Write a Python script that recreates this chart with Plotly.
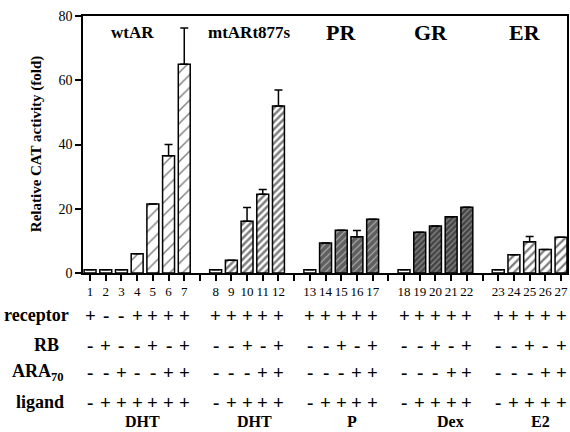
import plotly.graph_objects as go

# ---------------- data ----------------
lanes = [str(i) for i in range(1, 28)]
groups = ["wtAR", "mtARt877s", "PR", "GR", "ER"]
group_sizes = [7, 5, 5, 5, 5]
activity = [1, 1, 1, 6, 21.5, 36.5, 65,
            1, 4, 16.1, 24.5, 52,
            1, 9.3, 13.3, 11.3, 16.7,
            1, 12.7, 14.6, 17.5, 20.5,
            1, 5.7, 9.7, 7.3, 11.1]
err_upper = [0, 0, 0, 0, 0, 3.5, 11.3,
             0, 0, 4.3, 1.5, 5,
             0, 0, 0, 1.9, 0,
             0, 0, 0, 0, 0,
             0, 0, 1.7, 0, 0]
receptor = list("+--++++" + "+++++" * 4)
rb = list("-+--+-+" + "--+-+" * 4)
ara70 = list("--+--++" + "---++" * 4)
ligand = list("-++++++" + "-++++" * 4)
ligand_names = ["DHT", "DHT", "P", "Dex", "E2"]
yticks = [0, 20, 40, 60, 80]

# ---------------- layout helpers ----------------
slot = []
group_of = []
s = 0
for g, n in enumerate(group_sizes):
    for k in range(n):
        slot.append(s)
        group_of.append(g)
        s += 1
    s += 1
n_slots = s - 1
all_slots = list(range(n_slots))
tick_text = [""] * n_slots
for i, sl in enumerate(slot):
    tick_text[sl] = lanes[i]

SERIF = "Liberation Serif, Times New Roman, serif"

patterns = {
    "ctrl": dict(shape="", bgcolor="white"),
    "wtAR": dict(shape="/", fgcolor="black", bgcolor="white", size=9, solidity=0.16),
    "mtARt877s": dict(shape="/", fgcolor="black", bgcolor="white", size=5, solidity=0.5),
    "PR": dict(shape="/", fgcolor="black", bgcolor="#c0c0c0", size=5, solidity=0.82),
    "GR": dict(shape="/", fgcolor="black", bgcolor="#8a8a8a", size=4, solidity=0.7),
    "ER": dict(shape="/", fgcolor="black", bgcolor="white", size=6, solidity=0.38),
}

style_of = []
for i in range(len(lanes)):
    if receptor[i] == "-" or ligand[i] == "-":
        style_of.append("ctrl")
    else:
        style_of.append(groups[group_of[i]])

fig = go.Figure()
for st, pat in patterns.items():
    idx = [i for i in range(len(lanes)) if style_of[i] == st]
    fig.add_trace(go.Bar(
        x=[slot[i] for i in idx],
        y=[activity[i] for i in idx],
        width=0.76,
        marker=dict(color="white", line=dict(color="black", width=1.5), pattern=pat),
        error_y=dict(type="data", symmetric=False,
                     array=[err_upper[i] for i in idx],
                     arrayminus=[0] * len(idx),
                     color="black", thickness=1.5, width=4),
        showlegend=False,
        hoverinfo="skip",
    ))

W, H = 570, 432
L, R, T, B = 83, 569, 16, 273          # plot area in page pixels


def px(xp):
    return (xp - L) / (R - L)


def py(yp):
    return (B - yp) / (B - T)


def txt(x, y, text, size, xref="paper", angle=0):
    return dict(x=x, y=y, xref=xref, yref="paper", text=text, showarrow=False,
                xanchor="center", yanchor="middle", textangle=angle,
                font=dict(family=SERIF, size=size, color="black"))


ann = []
title_x = [133, 250, 342, 432, 527]
title_size = [17, 17, 22, 22, 22]
for g, name in enumerate(groups):
    ann.append(txt(px(title_x[g]), py(32), "<b>%s</b>" % name, title_size[g]))

ann.append(txt(px(36), py(144), "<b>Relative CAT activity (fold)</b>", 15, angle=-90))

rows = [("receptor", receptor, 315, 36),
        ("RB", rb, 345, 46),
        ("ARA<sub>70</sub>", ara70, 372, 38),
        ("ligand", ligand, 402, 40)]
for label, signs, yy, lx in rows:
    ann.append(txt(px(lx), py(yy), "<b>%s</b>" % label, 18))
    for i, sg in enumerate(signs):
        ann.append(txt(slot[i], py(yy), "<b>%s</b>" % sg, 19, xref="x"))

lig_x = [143, 255, 353, 452, 542]
for g, nm in enumerate(ligand_names):
    ann.append(txt(px(lig_x[g]), py(421), "<b>%s</b>" % nm, 16))

fig.update_layout(
    width=W, height=H,
    margin=dict(l=L, r=W - R, t=T, b=H - B, pad=0),
    paper_bgcolor="white", plot_bgcolor="white",
    barmode="overlay",
    annotations=ann,
    font=dict(family=SERIF, color="black"),
    xaxis=dict(range=[-0.45, n_slots - 1 + 0.38], tickmode="array",
               tickvals=all_slots, ticktext=tick_text,
               ticks="outside", ticklen=6, tickwidth=1.5, tickcolor="black",
               showline=True, linecolor="black", linewidth=1.5, mirror=True,
               showgrid=False, zeroline=False,
               tickfont=dict(family=SERIF, size=13, color="black")),
    yaxis=dict(range=[0, 80], tickmode="array", tickvals=yticks,
               ticks="outside", ticklen=6, tickwidth=1.5, tickcolor="black",
               showline=True, linecolor="black", linewidth=1.5, mirror=True,
               showgrid=False, zeroline=False,
               tickfont=dict(family=SERIF, size=14, color="black")),
)

fig.write_html("out.html", config={"displayModeBar": False},
               post_script="document.body.style.margin='0px';document.body.style.overflow='hidden';")
